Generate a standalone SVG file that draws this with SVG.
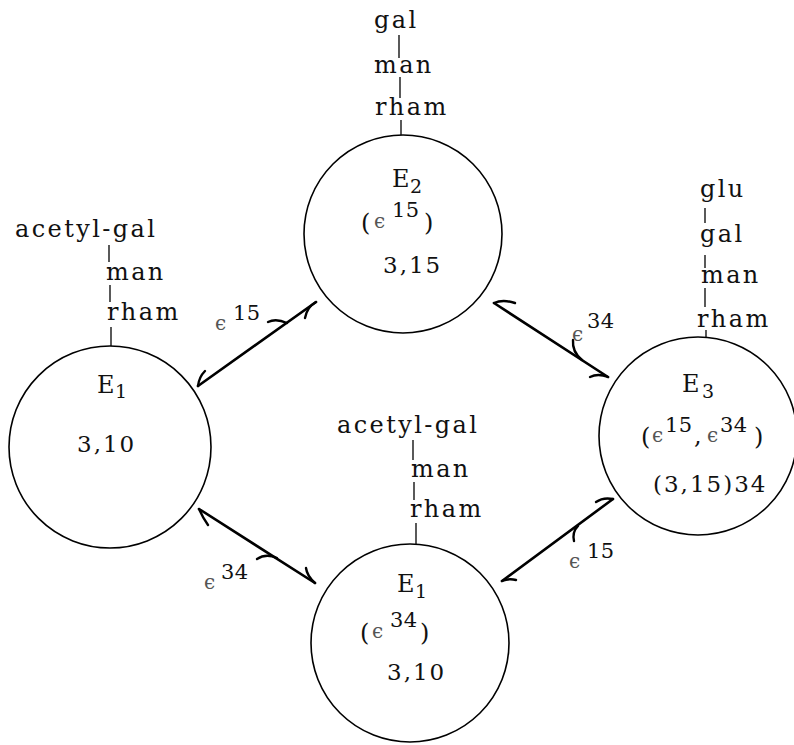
<svg xmlns="http://www.w3.org/2000/svg" width="794" height="745" viewBox="0 0 794 745">
<style>
.c{fill:none;stroke:#000;stroke-width:1.6}
.bar{stroke:#000;stroke-width:1.3}
.t{font-family:"DejaVu Serif","Liberation Serif",serif;font-size:24px;letter-spacing:2.4px;fill:#111}
.d{font-family:"DejaVu Serif","Liberation Serif",serif;font-size:23px;letter-spacing:2px;fill:#111}
.s{font-family:"DejaVu Serif","Liberation Serif",serif;font-size:21px;letter-spacing:0.5px;fill:#111}
.p{font-family:"DejaVu Serif","Liberation Serif",serif;font-size:24px;fill:#111}
.sub{font-family:"DejaVu Serif","Liberation Serif",serif;font-size:19px;fill:#111}
.eps{font-family:"DejaVu Serif","Liberation Serif",serif;font-size:20px;fill:#555}
.sh{stroke:#000;stroke-width:2.6;fill:none;stroke-linecap:round}
.bb{stroke:#000;stroke-width:2.4;fill:none;stroke-linecap:round}
</style>
<rect width="794" height="745" fill="#fff"/>
<g id="connectors">
  <line class="sh" x1="198" y1="386" x2="316" y2="302"/>
  <path class="bb" d="M198,386 Q199,377 205,371"/>
  <path class="bb" d="M316,302 Q307,307 305,318"/>
  <path class="bb" d="M268,322 Q276,318 287,323"/>
  <text class="eps" x="215" y="330">ϵ</text><text class="s" x="233" y="320">15</text>

  <line class="sh" x1="494" y1="303" x2="608" y2="377"/>
  <path class="bb" d="M494,303 Q503,299 515,303"/>
  <path class="bb" d="M608,377 Q598,373 590,377"/>
  <path class="bb" d="M573,340 Q572,352 582,360"/>
  <text class="eps" x="572" y="341">ϵ</text><text class="s" x="587" y="328">34</text>

  <line class="sh" x1="199" y1="509" x2="315" y2="583"/>
  <path class="bb" d="M199,509 Q203,518 208,525"/>
  <path class="bb" d="M315,583 Q307,576 306,568"/>
  <path class="bb" d="M257,559 Q266,553 277,558"/>
  <text class="eps" x="204" y="589">ϵ</text><text class="s" x="221" y="579">34</text>

  <line class="sh" x1="502" y1="581" x2="613" y2="499"/>
  <path class="bb" d="M502,581 Q509,578 516,580"/>
  <path class="bb" d="M613,499 Q603,497 596,502"/>
  <path class="bb" d="M574,541 Q572,532 578,526"/>
  <text class="eps" x="569" y="568">ϵ</text><text class="s" x="587" y="558">15</text>
</g>
<g id="E2">
  <circle class="c" cx="403" cy="234" r="99"/>
  <text class="t" x="374" y="28">gal</text>
  <line class="bar" x1="399" y1="35" x2="399" y2="58"/>
  <text class="t" x="374" y="73">man</text>
  <line class="bar" x1="400" y1="77" x2="400" y2="98"/>
  <text class="t" x="375" y="115">rham</text>
  <line class="bar" x1="401" y1="120" x2="401" y2="135"/>
  <text class="p" x="392" y="187">E</text><text class="sub" x="410" y="193">2</text>
  <text class="p" x="361" y="231">(</text><text class="eps" x="374" y="228">ϵ</text><text class="s" x="392" y="217">15</text><text class="p" x="424" y="231">)</text>
  <text class="d" x="383" y="273">3,15</text>
</g>
<g id="E1-left">
  <circle class="c" cx="110" cy="447" r="101"/>
  <text class="t" x="15" y="237">acetyl-gal</text>
  <line class="bar" x1="109" y1="245" x2="109" y2="262"/>
  <text class="t" x="106" y="280">man</text>
  <line class="bar" x1="110" y1="285" x2="110" y2="302"/>
  <text class="t" x="107" y="320">rham</text>
  <line class="bar" x1="111" y1="327" x2="111" y2="346"/>
  <text class="p" x="97" y="393">E</text><text class="sub" x="115" y="398">1</text>
  <text class="d" x="77" y="452">3,10</text>
</g>
<g id="E1-bottom">
  <circle class="c" cx="410" cy="643" r="99"/>
  <text class="t" x="337" y="433">acetyl-gal</text>
  <line class="bar" x1="413" y1="440" x2="413" y2="460"/>
  <text class="t" x="411" y="477">man</text>
  <line class="bar" x1="414" y1="482" x2="414" y2="500"/>
  <text class="t" x="410" y="517">rham</text>
  <line class="bar" x1="416" y1="523" x2="416" y2="544"/>
  <text class="p" x="397" y="592">E</text><text class="sub" x="415" y="598">1</text>
  <text class="p" x="360" y="641">(</text><text class="eps" x="372" y="638">ϵ</text><text class="s" x="390" y="627">34</text><text class="p" x="420" y="641">)</text>
  <text class="d" x="387" y="680">3,10</text>
</g>
<g id="E3">
  <circle class="c" cx="698" cy="436" r="99"/>
  <text class="t" x="700" y="197">glu</text>
  <line class="bar" x1="705" y1="208" x2="705" y2="223"/>
  <text class="t" x="700" y="242">gal</text>
  <line class="bar" x1="705" y1="255" x2="705" y2="268"/>
  <text class="t" x="701" y="283">man</text>
  <line class="bar" x1="705" y1="288" x2="705" y2="307"/>
  <text class="t" x="697" y="327">rham</text>
  <line class="bar" x1="706" y1="330" x2="706" y2="337"/>
  <text class="p" x="682" y="392">E</text><text class="sub" x="702" y="398">3</text>
  <text class="p" x="641" y="445">(</text><text class="eps" x="652" y="442">ϵ</text><text class="s" x="665" y="432">15</text><text class="p" x="694" y="444">,</text><text class="eps" x="707" y="442">ϵ</text><text class="s" x="720" y="432">34</text><text class="p" x="754" y="445">)</text>
  <text class="d" x="653" y="492">(3,15)34</text>
</g>
</svg>
